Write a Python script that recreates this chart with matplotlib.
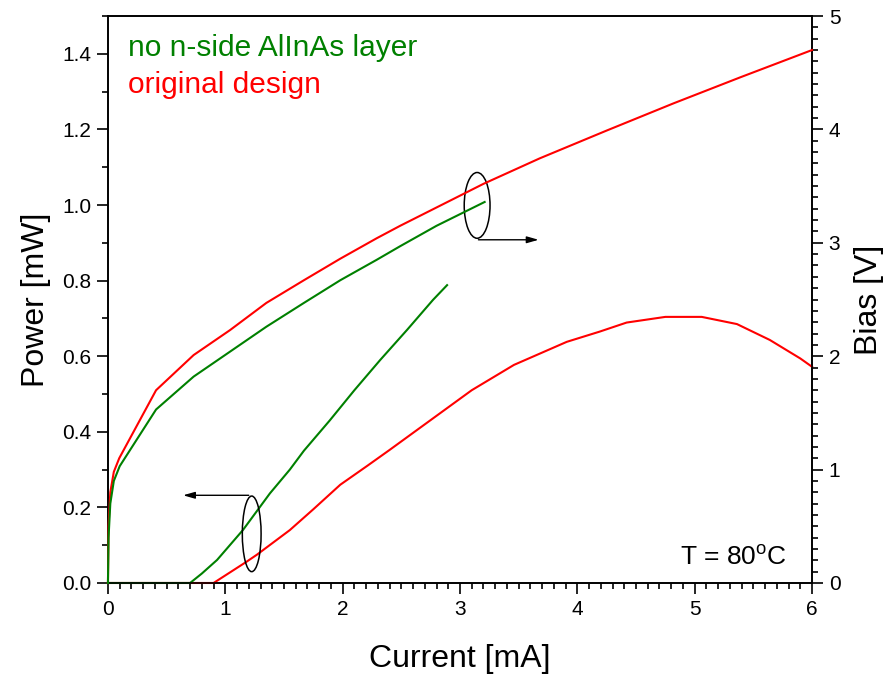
import matplotlib
matplotlib.use("Agg")
import matplotlib.pyplot as plt
from matplotlib.patches import Ellipse
from matplotlib.ticker import MultipleLocator, FormatStrFormatter

plt.rcParams["font.family"] = ["Liberation Sans", "DejaVu Sans"]

GREEN = "#008000"
RED = "#FF0000"

# L-I data (left axis, mW)
cur_pow_red = [0, 0.90, 1.00, 1.18, 1.27, 1.55, 1.75, 1.98, 2.21, 2.40, 2.75, 3.10,
               3.46, 3.91, 4.19, 4.42, 4.75, 5.06, 5.36, 5.64, 5.90, 6.00]
pow_red = [0, 0, 0.02, 0.056, 0.075, 0.14, 0.195, 0.26, 0.31, 0.352, 0.431, 0.51,
           0.577, 0.638, 0.665, 0.689, 0.704, 0.704, 0.685, 0.643, 0.594, 0.572]

cur_pow_green = [0, 0.70, 0.80, 0.93, 1.15, 1.38, 1.55, 1.67, 1.89, 2.10, 2.32,
                 2.55, 2.77, 2.89]
pow_green = [0, 0, 0.025, 0.061, 0.14, 0.237, 0.30, 0.35, 0.43, 0.51, 0.59,
             0.67, 0.749, 0.788]

# V-I data (right axis, V)
cur_bias_red = [0, 0.005, 0.02, 0.05, 0.096, 0.41, 0.73, 1.04, 1.35, 1.67, 1.98,
                2.29, 2.49, 3.20, 3.68, 4.25, 4.82, 5.39, 6.00]
bias_red = [0, 0.5, 0.8, 0.98, 1.10, 1.70, 2.01, 2.23, 2.47, 2.67, 2.86,
            3.04, 3.15, 3.52, 3.745, 3.99, 4.23, 4.46, 4.70]

cur_bias_green = [0, 0.005, 0.02, 0.05, 0.10, 0.41, 0.73, 1.04, 1.35, 1.67, 1.98,
                  2.29, 2.49, 2.80, 3.21]
bias_green = [0, 0.4, 0.7, 0.9, 1.03, 1.53, 1.82, 2.04, 2.26, 2.47, 2.67,
              2.85, 2.97, 3.15, 3.36]

fig = plt.figure(figsize=(8.9, 6.76), dpi=100)
ax = fig.add_axes([0.1213, 0.1376, 0.7911, 0.8387])
ax2 = ax.twinx()

lw = 1.5
ax.plot(cur_pow_red, pow_red, color=RED, lw=lw, zorder=3, clip_on=False)
ax.plot(cur_pow_green, pow_green, color=GREEN, lw=lw, zorder=3, clip_on=False)
ax2.plot(cur_bias_red, bias_red, color=RED, lw=lw, zorder=3, clip_on=False)
ax2.plot(cur_bias_green, bias_green, color=GREEN, lw=lw, zorder=3, clip_on=False)

ax.set_xlim(0, 6)
ax.set_ylim(0, 1.5)
ax2.set_ylim(0, 5)

ax.xaxis.set_major_locator(MultipleLocator(1))
ax.xaxis.set_minor_locator(MultipleLocator(0.1))
ax.yaxis.set_major_locator(MultipleLocator(0.2))
ax.yaxis.set_minor_locator(MultipleLocator(0.1))
ax.yaxis.set_major_formatter(FormatStrFormatter("%.1f"))
ax2.yaxis.set_major_locator(MultipleLocator(1))
ax2.yaxis.set_minor_locator(MultipleLocator(0.1))

for a in (ax, ax2):
    for s in a.spines.values():
        s.set_linewidth(1.2)
    a.tick_params(which="major", direction="out", length=8, width=1.2,
                  labelsize=15, pad=4)
    a.tick_params(which="minor", direction="out", length=4.5, width=1.2)
ax.tick_params(axis="x", which="both", top=False)

ax.set_xlabel("Current [mA]", fontsize=23, labelpad=18)
ax.set_ylabel("Power [mW]", fontsize=23, labelpad=8)
ax2.set_ylabel("Bias [V]", fontsize=23, labelpad=10)

# curve labels
ax.text(0.0284, 0.9436, "no n-side AlInAs layer", color=GREEN, fontsize=21.5,
        transform=ax.transAxes, ha="left", va="center")
ax.text(0.0284, 0.878, "original design", color=RED, fontsize=21.5,
        transform=ax.transAxes, ha="left", va="center")
ax.text(0.9645, 0.032, r"T = 80$^\mathregular{o}$C", fontsize=19,
        transform=ax.transAxes, ha="right", va="baseline")

# group markers: ellipse + arrow pointing to the relevant axis
ax.add_patch(Ellipse((1.225, 0.130), 0.16, 0.20, fill=False, ec="black", lw=1.1, zorder=4))
ax.annotate("", xy=(0.64, 0.232), xytext=(1.20, 0.232),
            arrowprops=dict(arrowstyle="-|>,head_length=0.7,head_width=0.2",
                            color="black", lw=1.0, shrinkA=0, shrinkB=0), zorder=4)
ax.add_patch(Ellipse((3.146, 0.999), 0.22, 0.174, fill=False, ec="black", lw=1.1, zorder=4))
ax.annotate("", xy=(3.67, 0.908), xytext=(3.157, 0.908),
            arrowprops=dict(arrowstyle="-|>,head_length=0.7,head_width=0.2",
                            color="black", lw=1.0, shrinkA=0, shrinkB=0), zorder=4)

fig.savefig("out.png", dpi=100, facecolor="white")
